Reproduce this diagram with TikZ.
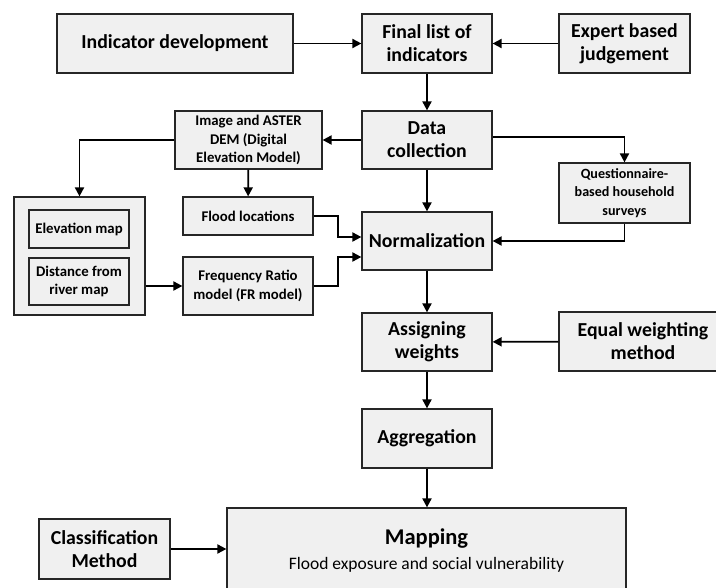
\documentclass[tikz,border=0pt]{standalone}
\usepackage{fontspec}
\setmainfont{Carlito}
\usetikzlibrary{calc,arrows.meta}
\definecolor{boxfill}{HTML}{F0F0F0}
\definecolor{boxline}{HTML}{262626}

\begin{document}
\begin{tikzpicture}
[x=1pt,y=-1pt,
box/.style={draw=boxline,fill=boxfill,line width=1.2pt,inner sep=0pt,align=center,font=\bfseries\fontsize{19.8}{23}\selectfont},
sbox/.style={box,font=\bfseries\fontsize{14.8}{18.3}\selectfont},
link/.style={draw=black,line width=1.8pt,-{Triangle[length=9pt,width=9pt]}}]
\useasboundingbox (0,0) rectangle (716,588);
\node (ind) at (175,43.5) [box,minimum width=236pt,minimum height=59pt] {Indicator development};
\node (final) at (427,43.5) [box,minimum width=130pt,minimum height=59pt] {Final list of\\indicators};
\node (expert) at (624.5,43.5) [box,minimum width=131pt,minimum height=59pt] {Expert based\\judgement};
\node (data) at (427,140) [box,minimum width=130pt,minimum height=58pt] {Data\\collection};
\node (image) at (248.5,140) [sbox,minimum width=147pt,minimum height=58pt] {Image and ASTER\\DEM (Digital\\Elevation Model)};
\node (quest) at (624.5,193) [sbox,minimum width=131pt,minimum height=60pt,font=\bfseries\fontsize{14.1}{18.3}\selectfont] {Questionnaire-\\based household\\surveys};
\node (outer) at (79.5,256) [box,minimum width=131pt,minimum height=118pt] {};
\node (elev) at (79,229) [sbox,minimum width=100pt,minimum height=38pt] {Elevation map};
\node (dist) at (79,281.5) [sbox,minimum width=100pt,minimum height=47pt] {Distance from\\river map};
\node (flood) at (248,216) [sbox,minimum width=130pt,minimum height=38pt] {Flood locations};
\node (fr) at (248,286) [sbox,minimum width=130pt,minimum height=58pt] {Frequency Ratio\\model (FR model)};
\node (norm) at (427,241) [box,minimum width=130pt,minimum height=58pt] {Normalization};
\node (assign) at (427,342) [box,minimum width=130pt,minimum height=58pt] {Assigning\\weights};
\node (equal) at (643,341.5) [box,minimum width=168pt,minimum height=59pt] {Equal weighting\\method};
\node (aggr) at (427,438.5) [box,minimum width=130pt,minimum height=59pt] {Aggregation};
\node (mapping) at (426.5,551) [box,minimum width=399pt,minimum height=86pt,font=\bfseries\fontsize{22.5}{25}\selectfont] {Mapping\\{\mdseries\fontsize{17.5}{20}\selectfont Flood exposure and social vulnerability}};
\node (classif) at (104.5,549) [box,minimum width=131pt,minimum height=60pt] {Classification\\Method};
\draw[link] (ind) -- (final);
\draw[link] (expert) -- (final);
\draw[link] (final) -- (data);
\draw[link] (data) -- (image);
\draw[link] ($(data.east)+(0,-3)$) -| (quest.north);
\draw[link] (image.west) -| (outer.north);
\draw[link] (image) -- (flood);
\draw[link] (outer.east |- fr.west) -- (fr.west);
\draw[link] (flood.east) -- ++(24,0) |- ($(norm.west)+(0,-4)$);
\draw[link] (fr.east) -- ++(24,0) |- ($(norm.west)+(0,16)$);
\draw[link] (data) -- (norm);
\draw[link] (quest.south) |- (norm.east);
\draw[link] (norm) -- (assign);
\draw[link] (equal) -- (assign);
\draw[link] (assign) -- (aggr);
\draw[link] (aggr.south) -- (aggr.south |- mapping.north);
\draw[link] (classif.east) -- (classif.east -| mapping.west);
\end{tikzpicture}
\end{document}
